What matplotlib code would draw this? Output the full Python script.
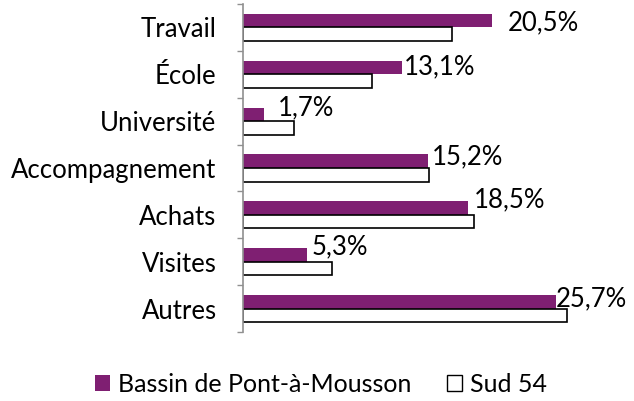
import matplotlib.pyplot as plt
from matplotlib.patches import Patch

plt.rcParams['font.family'] = ['Lato', 'DejaVu Sans']

categories = ['Travail', 'École', 'Université', 'Accompagnement', 'Achats', 'Visites', 'Autres']
bassin = [20.5, 13.1, 1.7, 15.2, 18.5, 5.3, 25.7]
sud54 = [17.2, 10.6, 4.2, 15.3, 19.0, 7.3, 26.6]
labels = ['20,5%', '13,1%', '1,7%', '15,2%', '18,5%', '5,3%', '25,7%']
# decalage des etiquettes (points), places a la main dans l'original
label_dx = [11, 1, 10, 3, 4, 3, 0]
label_dy = [-7, -5, -0.5, -2.5, 0.7, 0.7, -3]

purple = '#7f1f72'
fs = 18.5

fig = plt.figure(figsize=(6.34, 4.01), dpi=100)
ax = fig.add_axes([243 / 634, 1 - 332 / 401, 365 / 634, 328 / 401])

y = list(range(len(categories)))
h = 0.29
ax.barh([i - h / 2 for i in y], bassin, height=h, color=purple, edgecolor='none')
ax.barh([i + h / 2 for i in y], sud54, height=h, color='white', edgecolor='black', linewidth=1.2)

for i, (v, lab, dx, dy) in enumerate(zip(bassin, labels, label_dx, label_dy)):
    ax.annotate(lab, (v, i - h / 2), xytext=(dx, dy), textcoords='offset points',
                va='baseline', ha='left', fontsize=fs)

ax.set_ylim(len(categories) - 0.5, -0.5)
ax.set_xlim(0, 30)
ax.set_yticks(y)
ax.set_yticklabels(categories, fontsize=fs)
ax.set_yticks([i - 0.5 for i in range(len(categories) + 1)], minor=True)
ax.tick_params(axis='y', which='major', length=0, pad=19)
ax.tick_params(axis='y', which='minor', length=4, color='#909090', width=1)
ax.set_xticks([])
for s in ['top', 'right', 'bottom']:
    ax.spines[s].set_visible(False)
ax.spines['left'].set_color('#909090')
ax.spines['left'].set_linewidth(1.2)

handles = [Patch(facecolor=purple, edgecolor='none', label='Bassin de Pont-à-Mousson'),
           Patch(facecolor='white', edgecolor='black', label='Sud 54')]
fig.legend(handles=handles, loc='center', bbox_to_anchor=(0.5 + 4 / 634, 1 - 384 / 401), ncol=2,
           frameon=False, fontsize=18, handlelength=0.6, handleheight=0.6,
           handletextpad=0.3, columnspacing=1.45)

fig.savefig('out.png', dpi=100)
